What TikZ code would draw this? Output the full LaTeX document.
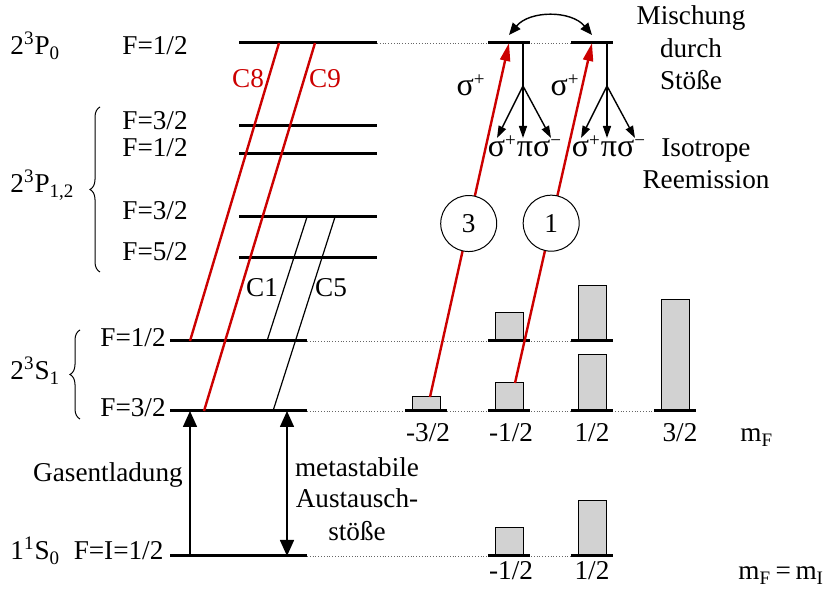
\documentclass[tikz,border=0pt]{standalone}
\usepackage{fontspec}
\setmainfont{Liberation Serif}
\usepackage{xcolor}
\usetikzlibrary{positioning,calc,arrows.meta,decorations.pathreplacing}
\definecolor{hered}{RGB}{204,0,0}
\newcommand{\gk}[1]{{\fontsize{16}{16}\selectfont #1}}

\begin{document}
\begin{tikzpicture}[
  x=0.5pt,y=-0.5pt,
  font=\fontsize{13.6}{16}\selectfont,
  level/.style={line width=1.5pt},
  guide/.style={densely dotted,line width=0.4pt,black!60},
  coll/.style={line width=1.2pt,draw=hered},
  pump/.style={line width=1.2pt,draw=hered,-{Triangle[length=9pt,width=5pt]}},
  hyp/.style={line width=0.6pt},
  pop/.style={draw,line width=0.5pt,fill=gray!35},
  vert/.style={line width=0.8pt,-{Triangle[length=8pt,width=7pt]}},
  decay/.style={line width=0.7pt,-{Triangle[length=6pt,width=4pt]}},
  txt/.style={anchor=base,inner sep=0pt},
  ltxt/.style={anchor=base west,inner sep=0pt},
  ring/.style={circle,draw,line width=0.5pt,fill=white,minimum size=28pt,inner sep=0pt},
  curly/.style={decorate,decoration={brace,amplitude=5pt},line width=0.5pt}
]
\useasboundingbox (0,0) rectangle (826,598);

% level ends, left block
\coordinate (P0l) at (239,43);   \coordinate (P0r) at (377,43);
\coordinate (Pa_l) at (239,126); \coordinate (Pa_r) at (377,126);
\coordinate (Pb_l) at (239,154); \coordinate (Pb_r) at (377,154);
\coordinate (Pc_l) at (239,217); \coordinate (Pc_r) at (377,217);
\coordinate (Pd_l) at (239,258); \coordinate (Pd_r) at (377,258);
\coordinate (S1l) at (170,341);  \coordinate (S1r) at (307,341);
\coordinate (S3l) at (170,411);  \coordinate (S3r) at (307,411);
\coordinate (Gl) at (170,556);   \coordinate (Gr) at (307,556);

% dotted continuation to the sublevels
\draw[guide] (P0r) -- (613,43);
\draw[guide] (S1r) -- (613,341);
\draw[guide] (S3r) -- (696,411);
\draw[guide] (Gr) -- (613,556);

% populations of the sublevels
\foreach \cx/\top in {426/397,509/383,592/355,675/300}
  \draw[pop] (\cx-14,411) rectangle (\cx+14,\top);
\foreach \cx/\top in {509/313,592/286}
  \draw[pop] (\cx-14,341) rectangle (\cx+14,\top);
\foreach \cx/\top in {509/528,592/501}
  \draw[pop] (\cx-14,556) rectangle (\cx+14,\top);

% sublevels
\foreach \cx in {426,509,592,675}
  \draw[level] (\cx-21,411) -- (\cx+21,411);
\foreach \cx in {509,592} {
  \draw[level] (\cx-21,43) -- (\cx+21,43);
  \draw[level] (\cx-21,341) -- (\cx+21,341);
  \draw[level] (\cx-21,556) -- (\cx+21,556);
}

% levels
\draw[level] (P0l) -- (P0r);
\draw[level] (Pa_l) -- (Pa_r);
\draw[level] (Pb_l) -- (Pb_r);
\draw[level] (Pc_l) -- (Pc_r);
\draw[level] (Pd_l) -- (Pd_r);
\draw[level] (S1l) -- (S1r);
\draw[level] (S3l) -- (S3r);
\draw[level] (Gl) -- (Gr);

% lines C1, C5, C8, C9
\coordinate (c8a) at (190,341); \coordinate (c8b) at (279,43);
\coordinate (c9a) at (204,411); \coordinate (c9b) at (315,43);
\coordinate (c1a) at (267,341); \coordinate (c1b) at (307,217);
\coordinate (c5a) at (273,411); \coordinate (c5b) at (335,217);
\draw[coll] (c8a) -- (c8b);
\draw[coll] (c9a) -- (c9b);
\draw[hyp] (c1a) -- (c1b);
\draw[hyp] (c5a) -- (c5b);
\node[txt,text=hered] (lc8) at (248,88) {C8};
\node[txt,text=hered] (lc9) at (325,88) {C9};
\node[txt] (lc1) at (262,297) {C1};
\node[txt] (lc5) at (331,297) {C5};

% optical pumping
\coordinate (pm3) at (430,397); \coordinate (tp3) at (509,43);
\coordinate (pm1) at (515,383); \coordinate (tp1) at (592,43);
\draw[pump] (pm3) -- (tp3);
\draw[pump] (pm1) -- (tp1);
\node[ring] (n3) at ($(pm3)!0.49!(tp3)$) {3};
\node[ring] (n1) at ($(pm1)!0.47!(tp1)$) {1};
\node[txt] (sgl) at (471,96) {\gk{σ}\textsuperscript{+}};
\node[txt] (sgr) at (565,96) {\gk{σ}\textsuperscript{+}};

% mixing
\coordinate (mxl) at (509,35); \coordinate (mxr) at (592,35);
\draw[line width=0.7pt,{Triangle[length=6pt,width=5pt]}-{Triangle[length=6pt,width=5pt]}]
  (mxl) to[bend left=50] (mxr);
\node[txt] (mix) at (691,25) {Mischung};
\node[txt] (mix2) at (691,58) {durch};
\node[txt] (mix3) at (691,90) {Stöße};

% reemission
\foreach \sx [count=\k] in {523,607} {
  \coordinate (st\k) at (\sx,43);
  \coordinate (br\k) at (\sx,86);
  \draw[line width=0.7pt] (st\k) -- (br\k);
  \draw[decay] (br\k) -- ++(-26,52);
  \draw[decay] (br\k) -- ++(0,52);
  \draw[decay] (br\k) -- ++(28,52);
  \node[txt] (em\k) at (\sx+2,157) {\gk{σ}\textsuperscript{+}\gk{π}\gk{σ}\textsuperscript{−}};
}
\node[txt] (iso) at (706,157) {Isotrope};
\node[txt] (iso2) at (706,189) {Reemission};

% left labels
\node[ltxt] (tP0) at (10,55) {2\textsuperscript{3}P\textsubscript{0}};
\node[ltxt] (fP0) at (122,55) {F=1/2};
\node[ltxt] (fPa) at (122,130) {F=3/2};
\node[ltxt] (fPb) at (122,157) {F=1/2};
\node[ltxt] (tP12) at (10,193) {2\textsuperscript{3}P\textsubscript{1,2}};
\node[ltxt] (fPc) at (122,220) {F=3/2};
\node[ltxt] (fPd) at (122,261) {F=5/2};
\draw[curly] (100,272) -- (100,107);
\node[ltxt] (fS1) at (100,347) {F=1/2};
\node[ltxt] (tS) at (10,380) {2\textsuperscript{3}S\textsubscript{1}};
\node[ltxt] (fS3) at (100,417) {F=3/2};
\draw[curly] (80,419) -- (80,330);
\node[ltxt] (tG) at (10,560) {1\textsuperscript{1}S\textsubscript{0}\ \ F=I=1/2};

% discharge and exchange
\coordinate (ga) at (190,556); \coordinate (gb) at (190,411);
\coordinate (xa) at (287,556); \coordinate (xb) at (287,411);
\draw[vert] (ga) -- (gb);
\draw[vert,{Triangle[length=8pt,width=7pt]}-{Triangle[length=8pt,width=7pt]}] (xa) -- (xb);
\node[txt] (gas) at (108,482) {Gasentladung};
\node[txt] (me1) at (357,477) {metastabile};
\node[txt] (me2) at (357,508) {Austausch-};
\node[txt] (me3) at (357,541) {stöße};

% quantum numbers
\foreach \cx/\lab in {428/-3\slash 2,511/-1\slash 2,592/1\slash 2,680/3\slash 2}
  \node[txt] at (\cx,442) {\lab};
\node[ltxt] (mF) at (740,442) {m\textsubscript{F}};
\node[txt] (b1) at (511,580) {-1/2};
\node[txt] (b2) at (592,580) {1/2};
\node[ltxt] (mFI) at (738,580) {m\textsubscript{F}\,=\,m\textsubscript{I}};
\end{tikzpicture}
\end{document}
